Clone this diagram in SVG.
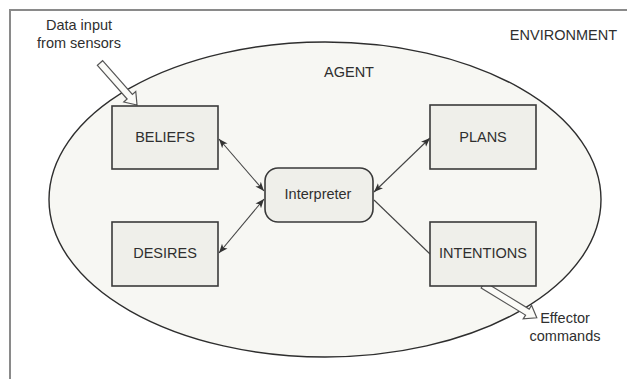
<svg xmlns="http://www.w3.org/2000/svg" width="627" height="379" viewBox="0 0 627 379">
  <defs>
    <style>
      text { font-family: "Liberation Sans", Arial, sans-serif; font-size: 14.5px; fill: #2f2f2f; }
      .c { text-anchor: middle; }
      .box { fill: #efefea; stroke: #3a3a3a; stroke-width: 1.6; }
      .link { stroke: #444; stroke-width: 1.1; fill: none; }
      .hollow { fill: #fbfbf8; stroke: #555; stroke-width: 1.2; stroke-linejoin: miter; }
    </style>
    <marker id="tip" viewBox="0 0 10 10" refX="10" refY="5" markerWidth="9" markerHeight="9" orient="auto-start-reverse" markerUnits="userSpaceOnUse">
      <path d="M0,1 L10,5 L0,9 L2.5,5 Z" fill="#333"/>
    </marker>
  </defs>

  <rect width="627" height="379" fill="#ffffff"/>

  <!-- environment frame: open to the right and bottom -->
  <g id="environment">
    <polyline points="10,379 10,10 627,10" fill="none" stroke="#8a8a8a" stroke-width="2"/>
    <text x="617" y="40" text-anchor="end">ENVIRONMENT</text>
  </g>

  <!-- agent boundary -->
  <g id="agent">
    <ellipse cx="325" cy="199.5" rx="276" ry="157.5" fill="#f7f7f3" stroke="#2e2e2e" stroke-width="1.4"/>
    <text class="c" x="349" y="77">AGENT</text>
  </g>

  <!-- connectors -->
  <g id="connectors">
    <line class="link" x1="219" y1="139" x2="264" y2="191" marker-start="url(#tip)" marker-end="url(#tip)"/>
    <line class="link" x1="264" y1="199" x2="219" y2="253" marker-start="url(#tip)" marker-end="url(#tip)"/>
    <line class="link" x1="374" y1="192" x2="430" y2="138" marker-start="url(#tip)" marker-end="url(#tip)"/>
    <line class="link" x1="374" y1="200" x2="430" y2="254"/>
    <!-- sensor input -->
    <g transform="translate(100,63) rotate(48.6)">
      <polygon class="hollow" points="0,-3.5 45,-3.5 45,-8 56,0 45,8 45,3.5 0,3.5"/>
    </g>
    <!-- effector output -->
    <g transform="translate(483,285) rotate(31.4)">
      <polygon class="hollow" points="0,-3.5 52,-3.5 52,-8 63,0 52,8 52,3.5 0,3.5"/>
    </g>
  </g>

  <g id="beliefs">
    <rect class="box" x="112" y="106" width="106" height="63"/>
    <text class="c" x="165" y="142">BELIEFS</text>
  </g>
  <g id="desires">
    <rect class="box" x="112" y="222" width="106" height="64"/>
    <text class="c" x="165" y="258">DESIRES</text>
  </g>
  <g id="plans">
    <rect class="box" x="430" y="105" width="106" height="64"/>
    <text class="c" x="483" y="142">PLANS</text>
  </g>
  <g id="intentions">
    <rect class="box" x="430" y="222" width="106" height="64"/>
    <text class="c" x="483" y="258">INTENTIONS</text>
  </g>
  <g id="interpreter">
    <rect class="box" x="265" y="168" width="108" height="54" rx="13" ry="13"/>
    <text class="c" x="318" y="199">Interpreter</text>
  </g>

  <g id="sensor-label">
    <text class="c" x="79" y="30">Data input</text>
    <text class="c" x="79" y="48">from sensors</text>
  </g>
  <g id="effector-label">
    <text class="c" x="565" y="323">Effector</text>
    <text class="c" x="565" y="341">commands</text>
  </g>
</svg>
